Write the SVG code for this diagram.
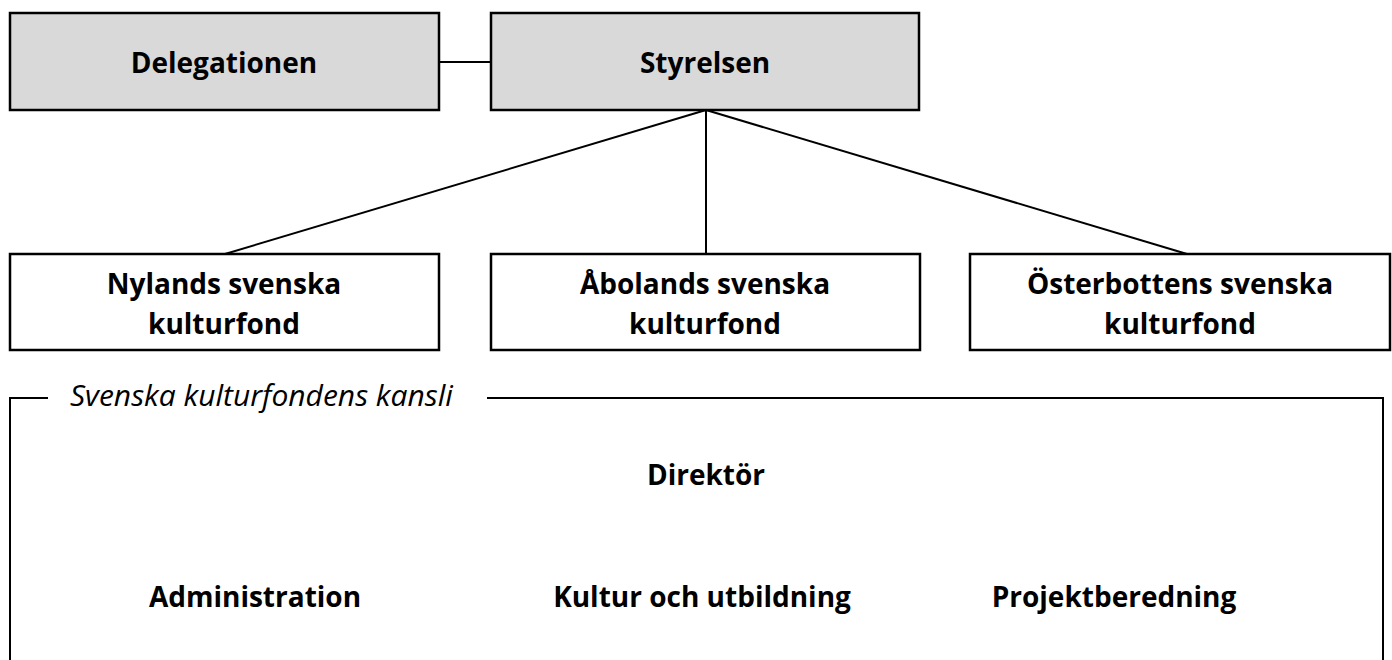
<svg xmlns="http://www.w3.org/2000/svg" width="1392" height="660" viewBox="0 0 1392 660">
<style>
.box{stroke:#000;stroke-width:2.5}
.g{fill:#d9d9d9}
.w{fill:#fff}
.t{font-family:"Open Sans",Lato,"Liberation Sans",sans-serif;font-weight:bold;font-size:28px;fill:#000;text-anchor:middle}
.i{font-family:"Open Sans",Lato,"Liberation Sans",sans-serif;font-style:italic;font-size:30px;fill:#000}
.c{stroke:#000;stroke-width:2;fill:none}
</style>
<rect width="1392" height="660" fill="#fff"/>
<g id="connectors">
<line class="c" x1="439" y1="62" x2="491" y2="62"/>
<line class="c" x1="706" y1="110" x2="225" y2="254"/>
<line class="c" x1="706" y1="110" x2="706" y2="254"/>
<line class="c" x1="706" y1="110" x2="1187" y2="254"/>
</g>
<g id="delegationen"><rect class="box g" x="10" y="13" width="429" height="97"/><text class="t" x="224" y="73">Delegationen</text></g>
<g id="styrelsen"><rect class="box g" x="491" y="13" width="428" height="97"/><text class="t" x="705" y="73">Styrelsen</text></g>
<g id="nylands"><rect class="box w" x="10" y="254" width="429" height="96"/><text class="t" x="224" y="294">Nylands svenska</text><text class="t" x="224" y="334">kulturfond</text></g>
<g id="abolands"><rect class="box w" x="491" y="254" width="429" height="96"/><text class="t" x="705" y="294">Åbolands svenska</text><text class="t" x="705" y="334">kulturfond</text></g>
<g id="osterbottens"><rect class="box w" x="970" y="254" width="420" height="96"/><text class="t" x="1180" y="294">Österbottens svenska</text><text class="t" x="1180" y="334">kulturfond</text></g>
<g id="kansli">
<path class="c" d="M48 398 H10 V670 M487 398 H1383 V670" stroke-width="2.5"/>
<text class="i" x="70" y="406">Svenska kulturfondens kansli</text>
<text class="t" x="706" y="485">Direktör</text>
<text class="t" x="255" y="607">Administration</text>
<text class="t" x="702" y="607">Kultur och utbildning</text>
<text class="t" x="1114" y="607">Projektberedning</text>
</g>
</svg>
